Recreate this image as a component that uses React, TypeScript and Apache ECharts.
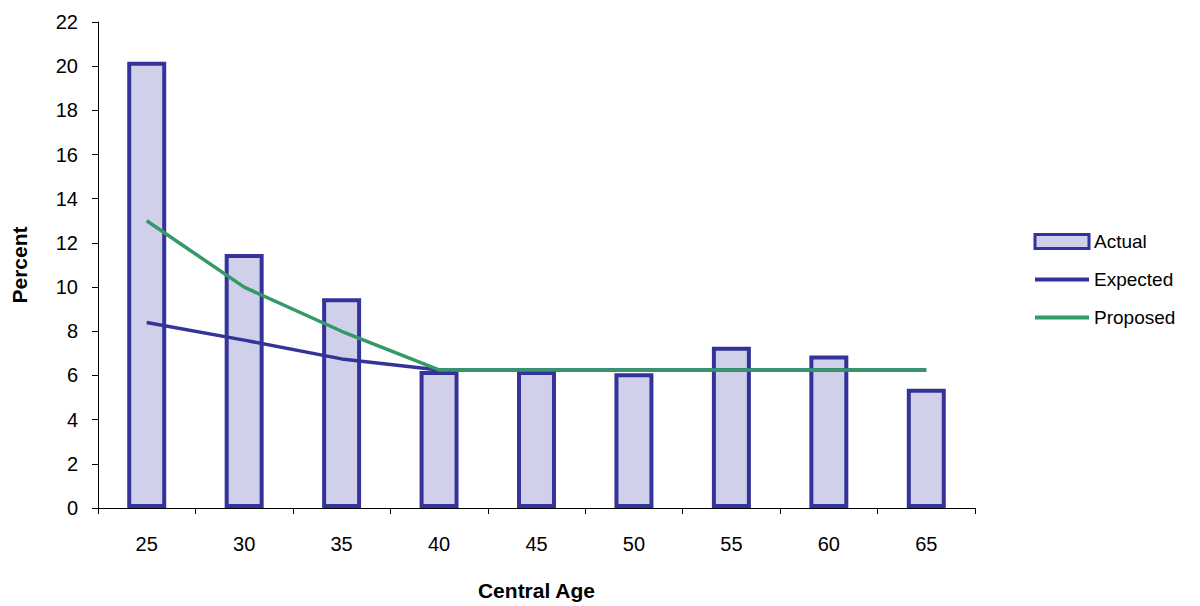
import React, { useEffect, useRef } from "react";
import * as echarts from "echarts";

const categories = ["25", "30", "35", "40", "45", "50", "55", "60", "65"];
const actual = [20.2, 11.5, 9.5, 6.2, 6.2, 6.1, 7.3, 6.9, 5.4];
const expected = [8.4, 7.6, 6.75, 6.25, 6.25, 6.25, 6.25, 6.25, 6.25];
const proposed = [13.0, 10.0, 8.0, 6.25, 6.25, 6.25, 6.25, 6.25, 6.25];

const FONT = "Liberation Sans, Arial, sans-serif";

export default function App() {
  const ref = useRef<HTMLDivElement>(null);
  useEffect(() => {
    const chart = echarts.init(ref.current!, null, { renderer: "svg" });
    chart.setOption({
      animation: false,
      backgroundColor: "#ffffff",
      grid: { left: 98, right: 225, top: 22, bottom: 98, containLabel: false },
      legend: {
        orient: "vertical",
        left: 1028,
        top: 227,
        itemWidth: 54,
        itemHeight: 14,
        itemGap: 19,
        textStyle: { fontFamily: FONT, fontSize: 19, color: "#000" },
        data: [
          { name: "Actual", icon: "rect", itemStyle: { borderWidth: 3 } },
          { name: "Expected", itemStyle: { opacity: 0 }, lineStyle: { width: 4 } },
          { name: "Proposed", itemStyle: { opacity: 0 }, lineStyle: { width: 4 } },
        ],
      },
      xAxis: {
        type: "category",
        data: categories,
        name: "Central Age",
        nameLocation: "middle",
        nameGap: 72,
        nameTextStyle: { fontFamily: FONT, fontSize: 21, fontWeight: "bold", color: "#000" },
        axisLine: { lineStyle: { color: "#000", width: 1 } },
        axisTick: { show: true, alignWithLabel: false, length: 6, lineStyle: { color: "#000" } },
        axisLabel: { fontFamily: FONT, fontSize: 20, color: "#000", margin: 26 },
        splitLine: { show: false },
      },
      yAxis: {
        type: "value",
        min: 0,
        max: 22,
        interval: 2,
        name: "Percent",
        nameLocation: "middle",
        nameGap: 68,
        nameTextStyle: { fontFamily: FONT, fontSize: 21, fontWeight: "bold", color: "#000" },
        axisLine: { show: true, lineStyle: { color: "#000", width: 1 } },
        axisTick: { show: true, length: 6, lineStyle: { color: "#000" } },
        axisLabel: { fontFamily: FONT, fontSize: 20, color: "#000", margin: 20 },
        splitLine: { show: false },
      },
      series: [
        {
          name: "Actual",
          type: "bar",
          data: actual,
          barWidth: "40%",
          itemStyle: { color: "#d0d0ea", borderColor: "#333399", borderWidth: 4 },
        },
        {
          name: "Expected",
          type: "line",
          data: expected,
          symbol: "none",
          itemStyle: { color: "#333399" },
          lineStyle: { color: "#333399", width: 3.5 },
        },
        {
          name: "Proposed",
          type: "line",
          data: proposed,
          symbol: "none",
          itemStyle: { color: "#339966" },
          lineStyle: { color: "#339966", width: 3.5 },
        },
      ],
    });
    return () => chart.dispose();
  }, []);
  return <div ref={ref} style={{ width: 1200, height: 606, position: "absolute", left: 0, top: 0 }} />;
}
